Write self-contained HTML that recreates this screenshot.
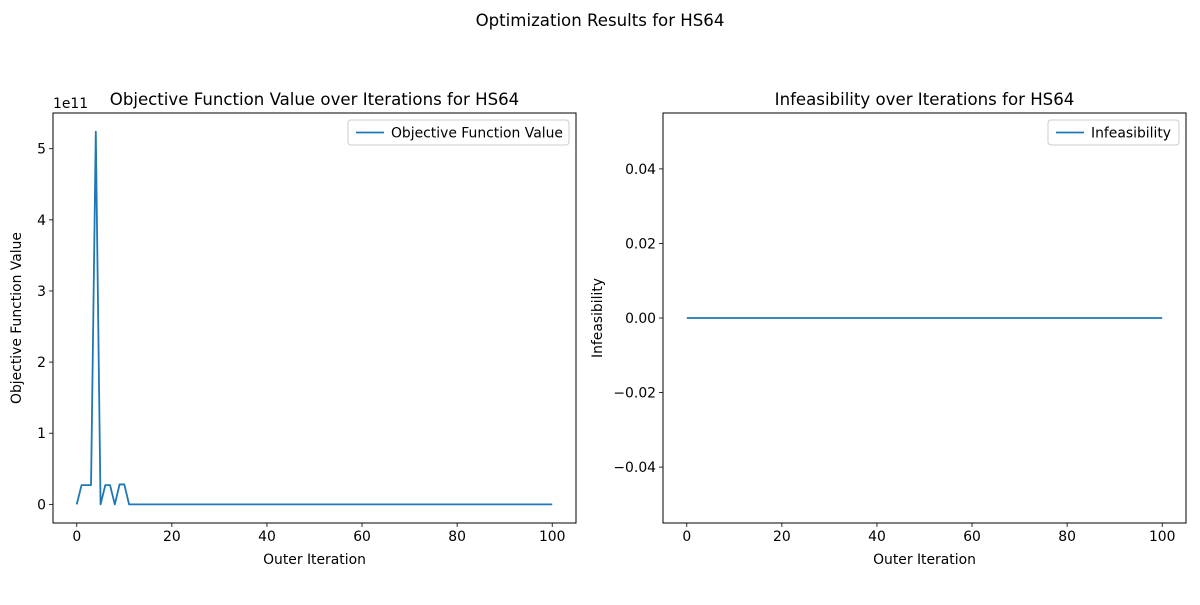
<!DOCTYPE html>
<html><head><meta charset="utf-8"><style>
body{margin:0;background:#fff;}
svg text{font-family:"DejaVu Sans","Liberation Sans",sans-serif;fill:#000;}
</style></head><body>
<svg id="fig" width="1200" height="600" xmlns="http://www.w3.org/2000/svg">
<rect width="1200" height="600" fill="#fff"/>
<text x="600" y="26" font-size="16.6" text-anchor="middle">Optimization Results for HS64</text>
<g id="left"></g>
<g id="right"></g>
</svg>
<script>
const iterations = Array.from({length:101},(_,i)=>i);
const objValues = [0,0.27e11,0.27e11,0.27e11,5.24e11,0,0.27e11,0.27e11,0,0.28e11,0.28e11,0].concat(new Array(89).fill(0));
const infValues = new Array(101).fill(0);
const leftYTicks = [0,1e11,2e11,3e11,4e11,5e11];
const leftYLabels = ["0","1","2","3","4","5"];
const rightYTicks = [-0.04,-0.02,0,0.02,0.04];
const rightYLabels = ["\u22120.04","\u22120.02","0.00","0.02","0.04"];
const xTicks = [0,20,40,60,80,100];

const NS="http://www.w3.org/2000/svg";
function mk(parent,tag,attrs,text){const e=document.createElementNS(NS,tag);for(const k in attrs)e.setAttribute(k,attrs[k]);if(text!==undefined)e.textContent=text;parent.appendChild(e);return e;}

function drawChart(g,box,xmin,xmax,ymin,ymax,xs,ys,yTicks,yLabels,title,ylabel,legendText,legW,ylabX,extra){
  const sx=v=>box.x+(v-xmin)/(xmax-xmin)*box.w;
  const sy=v=>box.y+box.h-(v-ymin)/(ymax-ymin)*box.h;
  const t=mk(g,'text',{x:box.x+box.w/2,y:box.y-8,'font-size':16.6,'text-anchor':'middle'},title);
  
  
  xTicks.forEach(v=>{
    const l=mk(g,'line',{x1:sx(v),x2:sx(v),y1:box.y+box.h,y2:box.y+box.h+4,stroke:'#000','stroke-width':0.8});
    
    
    const tx=mk(g,'text',{x:sx(v),y:box.y+box.h+18,'font-size':13.9,'text-anchor':'middle'},String(v));
    
    
  });
  yTicks.forEach((v,i)=>{
    const l=mk(g,'line',{x1:box.x-4,x2:box.x,y1:sy(v),y2:sy(v),stroke:'#000','stroke-width':0.8});
    
    
    const tx=mk(g,'text',{x:box.x-7,y:sy(v)+5,'font-size':13.9,'text-anchor':'end'},yLabels[i]);
    
    
  });
  const xl=mk(g,'text',{x:box.x+box.w/2,y:box.y+box.h+41,'font-size':13.9,'text-anchor':'middle'},'Outer Iteration');
  
  
  const cy=box.y+box.h/2;
  const yl=mk(g,'text',{x:ylabX,y:cy,'font-size':13.9,'text-anchor':'middle',transform:`rotate(-90 ${ylabX} ${cy})`},ylabel);
  
  
  const pts=xs.map((x,i)=>sx(x).toFixed(2)+','+sy(ys[i]).toFixed(2)).join(' ');
  const pl=mk(g,'polyline',{points:pts,fill:'none',stroke:'#1f77b4','stroke-width':1.8,'stroke-linejoin':'round'});
  
  
  const fr=mk(g,'rect',{x:box.x,y:box.y,width:box.w,height:box.h,fill:'none',stroke:'#000','stroke-width':1});
  
  
  const lx=box.x+box.w-7-legW, ly=box.y+7;
  const lg=mk(g,'g',{});
  
  
  mk(lg,'rect',{x:lx,y:ly,width:legW,height:25,rx:3,fill:'#fff',stroke:'#ccc','stroke-width':1});
  mk(lg,'line',{x1:lx+8,x2:lx+36,y1:ly+12.5,y2:ly+12.5,stroke:'#1f77b4','stroke-width':1.8});
  mk(lg,'text',{x:lx+43,y:ly+17.5,'font-size':13.9},legendText);
  if(extra) extra(g);
}
drawChart(document.getElementById('left'),{x:53,y:113,w:523,h:410},-5,105,-0.262e11,5.502e11,iterations,objValues,leftYTicks,leftYLabels,'Objective Function Value over Iterations for HS64','Objective Function Value','Objective Function Value',221,21,
  g=>{const t=mk(g,'text',{x:53,y:108,'font-size':13.9},'1e11');});
drawChart(document.getElementById('right'),{x:663,y:113,w:523,h:410},-5,105,-0.055,0.055,iterations,infValues,rightYTicks,rightYLabels,'Infeasibility over Iterations for HS64','Infeasibility','Infeasibility',131,602);
</script>
</body></html>
